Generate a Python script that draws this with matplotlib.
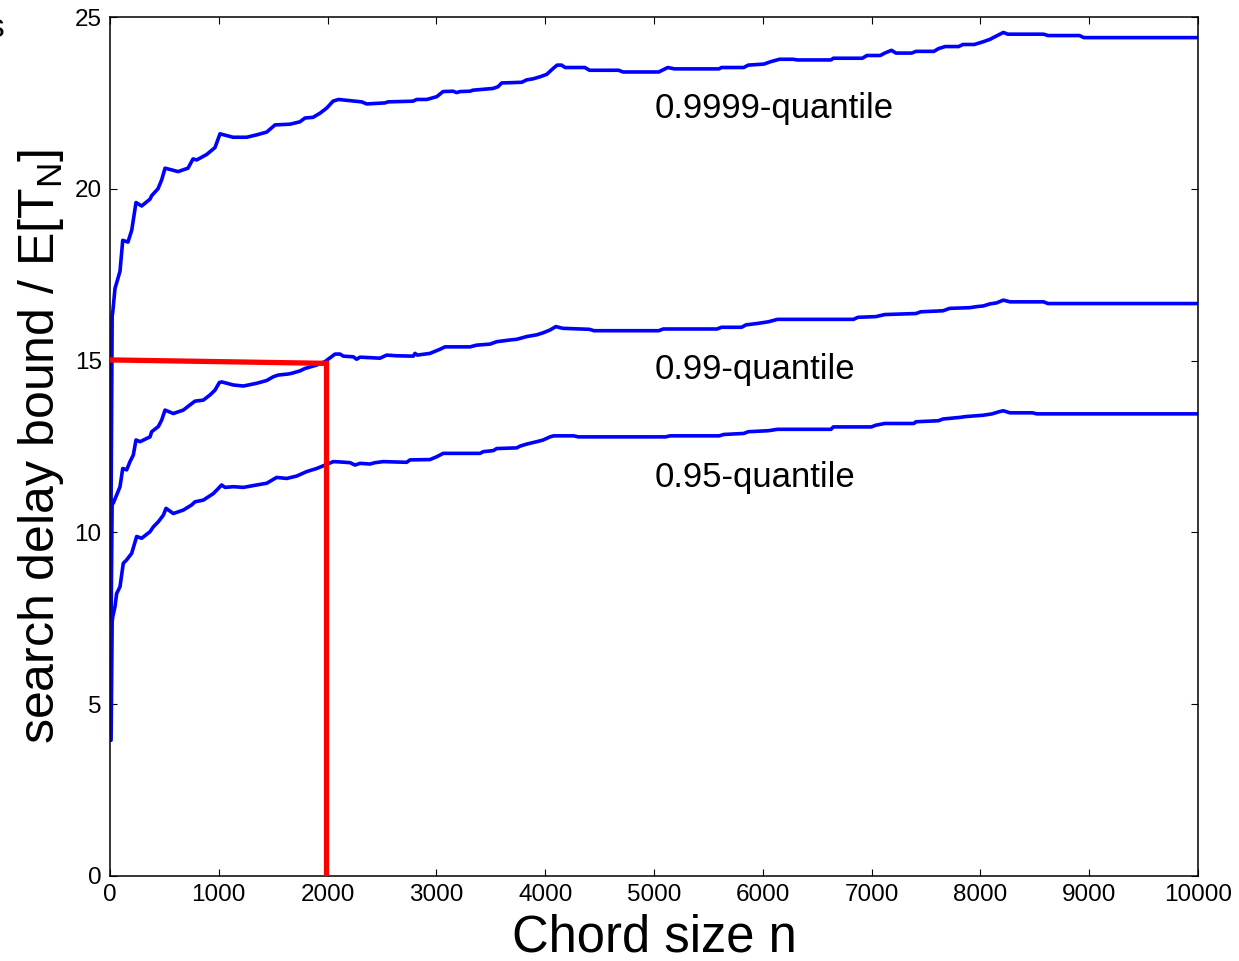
import matplotlib
matplotlib.use("Agg")
import matplotlib.pyplot as plt

plt.rcParams['font.family'] = ['Liberation Sans', 'DejaVu Sans']

# ---- data ----
Q9999 = [(10, 10.95), (20, 16.3), (25, 16.4), (46, 17.1), (92, 17.6), (117, 18.5), (165, 18.45),
         (200, 18.8), (239, 19.6), (291, 19.5), (368, 19.7), (383, 19.8), (441, 20.0), (475, 20.26),
         (506, 20.6), (567, 20.55), (625, 20.5), (717, 20.6), (763, 20.87), (797, 20.84), (889, 21.0),
         (965, 21.2), (1011, 21.6), (1131, 21.5), (1256, 21.5), (1348, 21.57), (1440, 21.65),
         (1517, 21.86), (1654, 21.88), (1746, 21.95), (1792, 22.06), (1866, 22.08), (1930, 22.2),
         (1992, 22.35), (2050, 22.55), (2100, 22.6), (2313, 22.53), (2359, 22.47), (2528, 22.5),
         (2555, 22.53), (2785, 22.55), (2819, 22.6), (2911, 22.6), (3003, 22.68), (3061, 22.83),
         (3153, 22.84), (3187, 22.8), (3217, 22.83), (3309, 22.84), (3336, 22.87), (3447, 22.9),
         (3520, 22.92), (3566, 22.97), (3600, 23.08), (3784, 23.1), (3830, 23.17), (3888, 23.2),
         (3952, 23.26), (4014, 23.33), (4072, 23.5), (4110, 23.6), (4151, 23.6), (4182, 23.53),
         (4365, 23.53), (4407, 23.45), (4674, 23.45), (4715, 23.4), (5044, 23.4), (5127, 23.53),
         (5188, 23.49), (5598, 23.49), (5620, 23.53), (5825, 23.53), (5866, 23.6), (6011, 23.63),
         (6073, 23.7), (6154, 23.77), (6277, 23.77), (6319, 23.75), (6627, 23.75), (6648, 23.8),
         (6915, 23.8), (6957, 23.88), (7080, 23.88), (7121, 23.95), (7183, 24.03), (7224, 23.95),
         (7368, 23.95), (7408, 24.0), (7573, 24.0), (7615, 24.08), (7676, 24.14), (7800, 24.14),
         (7840, 24.2), (7944, 24.2), (8026, 24.28), (8088, 24.35), (8149, 24.45), (8211, 24.55),
         (8252, 24.5), (8581, 24.5), (8621, 24.46), (8910, 24.46), (8951, 24.4), (10000, 24.4)]

Q99 = [(10, 7.5), (20, 10.94), (30, 10.85), (55, 11.04), (92, 11.33), (117, 11.86), (153, 11.82),
       (184, 12.06), (214, 12.25), (239, 12.69), (276, 12.64), (368, 12.78), (383, 12.93),
       (444, 13.08), (475, 13.27), (506, 13.56), (582, 13.46), (674, 13.56), (735, 13.71),
       (781, 13.82), (858, 13.85), (919, 14.0), (965, 14.14), (1005, 14.36), (1026, 14.38),
       (1134, 14.29), (1226, 14.26), (1348, 14.34), (1440, 14.42), (1501, 14.53), (1547, 14.58),
       (1639, 14.61), (1670, 14.63), (1746, 14.7), (1792, 14.77), (1900, 14.87), (1976, 14.97),
       (2022, 15.08), (2068, 15.19), (2114, 15.19), (2145, 15.13), (2236, 15.11), (2267, 15.04),
       (2298, 15.1), (2482, 15.07), (2543, 15.16), (2635, 15.14), (2788, 15.13), (2803, 15.21),
       (2825, 15.16), (2941, 15.21), (3033, 15.33), (3079, 15.4), (3309, 15.4), (3370, 15.45),
       (3493, 15.48), (3554, 15.55), (3676, 15.6), (3738, 15.62), (3830, 15.7), (3922, 15.75),
       (3982, 15.81), (4044, 15.89), (4098, 15.99), (4160, 15.94), (4407, 15.91), (4449, 15.87),
       (5044, 15.87), (5085, 15.92), (5579, 15.92), (5620, 15.97), (5805, 15.97), (5846, 16.04),
       (5949, 16.08), (6052, 16.13), (6134, 16.2), (6833, 16.2), (6875, 16.26), (7039, 16.28),
       (7121, 16.34), (7409, 16.37), (7450, 16.42), (7656, 16.45), (7718, 16.52), (7902, 16.54),
       (7964, 16.57), (8026, 16.59), (8088, 16.65), (8149, 16.68), (8211, 16.76), (8272, 16.71),
       (8581, 16.71), (8621, 16.66), (10000, 16.66)]

Q95 = [(10, 3.95), (20, 7.4), (25, 7.54), (46, 7.84), (61, 8.22), (92, 8.42), (122, 9.1),
       (153, 9.2), (199, 9.39), (245, 9.88), (291, 9.83), (368, 10.02), (398, 10.16), (444, 10.31),
       (490, 10.5), (515, 10.7), (582, 10.55), (674, 10.65), (751, 10.8), (781, 10.89), (858, 10.94),
       (950, 11.13), (996, 11.28), (1026, 11.38), (1057, 11.31), (1134, 11.33), (1226, 11.31),
       (1348, 11.38), (1440, 11.43), (1532, 11.6), (1624, 11.57), (1716, 11.64), (1808, 11.77),
       (1900, 11.86), (1961, 11.94), (2053, 12.06), (2114, 12.05), (2206, 12.03), (2252, 11.96),
       (2298, 12.01), (2390, 11.99), (2436, 12.03), (2512, 12.06), (2727, 12.04), (2757, 12.11),
       (2941, 12.12), (3002, 12.2), (3063, 12.3), (3401, 12.3), (3431, 12.35), (3523, 12.38),
       (3554, 12.44), (3738, 12.46), (3768, 12.51), (3830, 12.57), (3922, 12.64), (3982, 12.69),
       (4044, 12.78), (4078, 12.81), (4263, 12.81), (4304, 12.78), (5106, 12.78), (5147, 12.81),
       (5599, 12.81), (5641, 12.85), (5825, 12.88), (5866, 12.93), (6052, 12.96), (6134, 13.0),
       (6627, 13.0), (6648, 13.07), (6998, 13.07), (7039, 13.12), (7121, 13.17), (7389, 13.17),
       (7408, 13.22), (7615, 13.25), (7656, 13.3), (7820, 13.35), (7861, 13.37), (8026, 13.41),
       (8108, 13.45), (8170, 13.51), (8211, 13.54), (8272, 13.48), (8478, 13.48), (8519, 13.45),
       (10000, 13.45)]

RED_PATH = [(0, 15.02), (1990, 14.92), (1990, 0)]

LABELS = ["0.9999-quantile", "0.99-quantile", "0.95-quantile"]
LABEL_POS = [(5010, 22.35), (5010, 14.74), (5010, 11.6)]

XTICKS = list(range(0, 10001, 1000))
YTICKS = [0, 5, 10, 15, 20, 25]

# ---- figure ----
W, H = 1239, 961
fig = plt.figure(figsize=(W / 100, H / 100), dpi=100)
ax = fig.add_axes([110 / W, 1 - 876 / H, (1198 - 110) / W, (876 - 17) / H])

for series in (Q9999, Q99, Q95):
    n, v = zip(*series)
    ax.plot(n, v, color=(0, 0, 1), lw=2.6, solid_joinstyle='round', solid_capstyle='round')

rx, ry = zip(*RED_PATH)
ax.plot(rx, ry, color=(1, 0, 0), lw=3.8, solid_joinstyle='miter', zorder=3)

for txt, (x, y) in zip(LABELS, LABEL_POS):
    ax.text(x, y, txt, fontsize=25, va='center', ha='left', color='black')

ax.set_xlim(0, 10000)
ax.set_ylim(0, 25)
ax.set_xticks(XTICKS)
ax.set_yticks(YTICKS)
ax.tick_params(direction='in', top=True, right=True, length=5, width=0.8,
               labelsize=17.5, pad=6)
for s in ax.spines.values():
    s.set_linewidth(1.1)

ax.set_xlabel("Chord size n", fontsize=36.5, labelpad=5)
ax.set_ylabel(r"search delay bound / E[T$_\mathregular{N}$]", fontsize=36, labelpad=6)

fig.text(-13 / W, 1 - 37 / H, "s", fontsize=24, va='baseline', ha='left')

fig.savefig("out.png", dpi=100)
